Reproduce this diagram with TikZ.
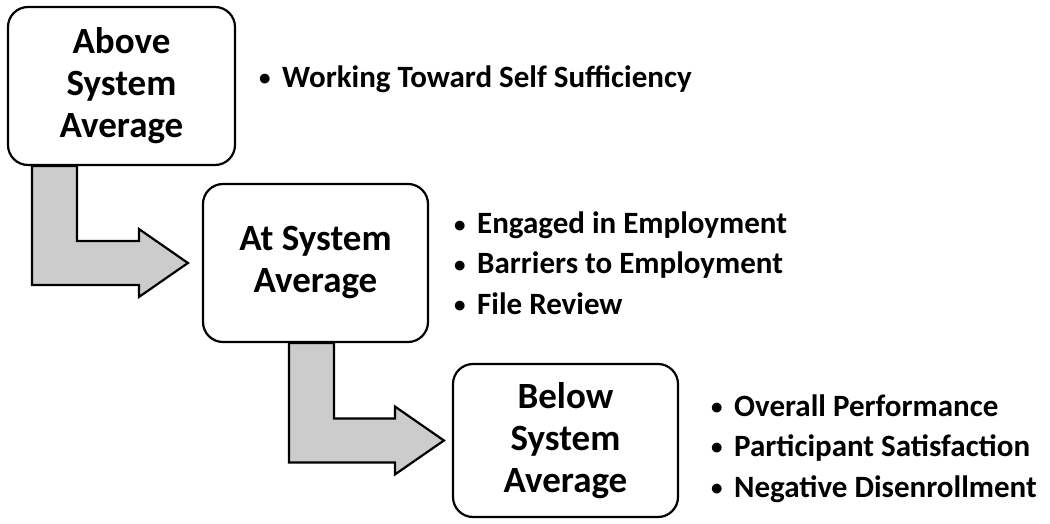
\documentclass[tikz,border=0pt]{standalone}
\usepackage{fontspec}
\setmainfont{Carlito}
\usetikzlibrary{calc}
\definecolor{flowgray}{RGB}{204,204,204}
\newcommand\itemdot{\makebox[23pt][l]{\raisebox{2pt}{\fontsize{23}{23}\selectfont •}}}
\tikzset{
  level/.style={draw,line width=2.2pt,rounded corners=20pt,align=center,
    inner sep=0pt,font=\fontsize{37}{42}\selectfont\bfseries},
  item/.style={anchor=base west,inner sep=0pt,font=\fontsize{31}{36}\selectfont\bfseries},
  flowarrow/.style={draw,line width=2.2pt,fill=flowgray,line join=miter}
}
% bent arrow: #1 from, #2 to, #3 stem offset, #4 gap before target
\newcommand\stepflow[4]{
  \draw[flowarrow] let \p1=(#1.south west), \p2=(#2.west) in
    (\x1+#3, \y1) -- (\x1+#3+45pt, \y1) -- (\x1+#3+45pt, \y2+22pt)
    -- (\x2-#4-49pt, \y2+22pt) -- (\x2-#4-49pt, \y2+34pt) -- (\x2-#4, \y2)
    -- (\x2-#4-49pt, \y2-34pt) -- (\x2-#4-49pt, \y2-22pt)
    -- (\x1+#3, \y2-22pt) -- cycle;}
\begin{document}
\begin{tikzpicture}[x=1pt,y=1pt]
  \useasboundingbox (0,0) rectangle (1050,523);
  % the three levels
  \node[level,minimum width=227pt,minimum height=158pt] (above) at (121.5,437)
    {Above\\System\\Average};
  \node[level,minimum width=225pt,minimum height=158pt] (at) at (315.5,260)
    {At System\\Average};
  \node[level,minimum width=225pt,minimum height=153pt] (below) at (565.5,82.5)
    {Below\\System\\Average};
  \stepflow{above}{at}{25pt}{14pt}
  \stepflow{at}{below}{87pt}{8pt}
  % measures for each level
  \node[item] (above-1) at (259,435) {\itemdot Working Toward Self Sufficiency};
  \foreach \txt [count=\i] in {Engaged in Employment,Barriers to Employment,File Review}
    \node[item] (at-\i) at (454,{289-40*(\i-1)}) {\itemdot\txt};
  \foreach \txt [count=\i] in {Overall Performance,Participant Satisfaction,Negative Disenrollment}
    \node[item] (below-\i) at (711,{107-40.5*(\i-1)}) {\itemdot\txt};
\end{tikzpicture}
\end{document}
